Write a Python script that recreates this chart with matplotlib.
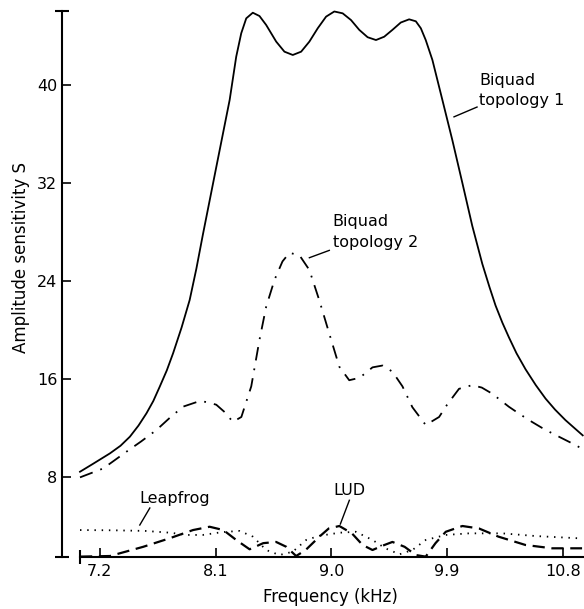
import matplotlib
matplotlib.use("Agg")
import matplotlib.pyplot as plt

# values (frequency in kHz, amplitude sensitivity S)
freq_bq1 = [7.045, 7.15, 7.278, 7.36, 7.433, 7.5, 7.562, 7.615, 7.665, 7.72,
            7.769, 7.835, 7.898, 7.95, 8.001, 8.105, 8.209, 8.26, 8.299, 8.338,
            8.389, 8.441, 8.493, 8.571, 8.635, 8.70, 8.765, 8.829, 8.894, 8.959,
            9.023, 9.088, 9.153, 9.217, 9.282, 9.347, 9.411, 9.475, 9.54, 9.605,
            9.657, 9.696, 9.734, 9.786, 9.863, 9.941, 10.019, 10.096, 10.174,
            10.23, 10.277, 10.33, 10.381, 10.44, 10.51, 10.59, 10.666, 10.74,
            10.82, 10.89, 10.955]
s_bq1 = [8.43, 9.1, 9.93, 10.55, 11.29, 12.2, 13.2, 14.2, 15.37, 16.7,
         18.1, 20.2, 22.45, 25.0, 27.8, 33.3, 38.78, 42.31, 44.22, 45.44,
         45.9, 45.63, 44.9, 43.54, 42.72, 42.45, 42.72, 43.54, 44.63, 45.58,
         46.0, 45.85, 45.3, 44.5, 43.9, 43.67, 43.94, 44.5, 45.1, 45.36,
         45.2, 44.63, 43.67, 42.04, 38.8, 35.5, 32.0, 28.5, 25.4,
         23.5, 22.0, 20.6, 19.4, 18.1, 16.8, 15.5, 14.4, 13.5,
         12.65, 12.0, 11.4]

freq_bq2 = [7.045, 7.226, 7.407, 7.52, 7.64, 7.74, 7.846, 7.976, 8.04, 8.105,
            8.17, 8.234, 8.30, 8.377, 8.441, 8.493, 8.558, 8.62, 8.674, 8.752,
            8.829, 8.907, 8.984, 9.062, 9.139, 9.22, 9.32, 9.398, 9.475, 9.553,
            9.63, 9.734, 9.838, 9.9, 9.993, 10.096, 10.17, 10.251, 10.38, 10.47,
            10.56, 10.64, 10.717, 10.872, 10.945]
s_bq2 = [7.97, 8.7, 10.07, 10.9, 11.84, 12.8, 13.74, 14.2, 14.1, 13.9,
         13.3, 12.5, 12.9, 15.4, 19.2, 21.9, 24.1, 25.6, 26.3, 26.1,
         24.9, 22.4, 19.7, 17.0, 15.9, 16.1, 16.95, 17.1, 16.6, 15.4,
         13.7, 12.24, 12.9, 13.9, 15.2, 15.5, 15.3, 14.8, 13.74, 13.1,
         12.5, 12.0, 11.57, 10.75, 10.34]

freq_lf = [7.045, 7.3, 7.55, 7.75, 7.873, 8.0, 8.15, 8.286, 8.39, 8.493,
           8.596, 8.70, 8.804, 8.907, 9.062, 9.19, 9.32, 9.42, 9.53, 9.63,
           9.734, 9.89, 10.07, 10.33, 10.59, 10.92]
s_lf = [3.67, 3.65, 3.6, 3.45, 3.27, 3.27, 3.5, 3.6, 3.13, 2.04,
        1.63, 1.9, 2.86, 3.2, 3.45, 3.53, 2.86, 2.18, 1.69, 2.04,
        2.86, 3.27, 3.4, 3.4, 3.18, 3.0]

freq_lud = [7.045, 7.278, 7.536, 7.743, 7.924, 8.053, 8.16, 8.26, 8.364, 8.47,
            8.57, 8.65, 8.726, 8.80, 8.907, 8.98, 9.062, 9.16, 9.243, 9.32,
            9.40, 9.475, 9.57, 9.657, 9.734, 9.81, 9.89, 10.019, 10.148, 10.3,
            10.51, 10.717, 10.95]
s_lud = [1.5, 1.55, 2.3, 3.0, 3.67, 3.94, 3.67, 2.86, 2.1, 2.6,
         2.7, 2.3, 1.55, 2.04, 3.13, 3.8, 4.0, 3.4, 2.45, 2.04,
         2.4, 2.7, 2.3, 1.63, 1.5, 2.6, 3.53, 4.0, 3.8, 3.13,
         2.45, 2.18, 2.18]

x_ticks = [7.2, 8.1, 9.0, 9.9, 10.8]
x_labels = ["7.2", "8.1", "9.0", "9.9", "10.8"]
y_ticks = [8, 16, 24, 32, 40]

plt.rcParams['font.family'] = ['DejaVu Sans']

fig = plt.figure(figsize=(5.84, 6.09), dpi=100)
ax = fig.add_axes([62 / 584, 52 / 609, 522 / 584, 546 / 609])

xmin, xmax = 6.905, 10.965
ymin, ymax = 1.47, 46.04
ax.set_xlim(xmin, xmax)
ax.set_ylim(ymin, ymax)

ax.plot(freq_bq1, s_bq1, color='black', lw=1.3, clip_on=False)
ax.plot(freq_bq2, s_bq2, color='black', lw=1.3, linestyle=(0, (7.5, 4.5, 1, 4.5)), clip_on=False)
ax.plot(freq_lf, s_lf, color='black', lw=1.3, linestyle=(0, (0.8, 3.2)), clip_on=False)
ax.plot(freq_lud, s_lud, color='black', lw=1.6, linestyle=(0, (5.5, 3)), clip_on=False)

# annotations with leader lines
fs = 11.5
ax.text(10.148, 38.37, "Biquad\ntopology 1", fontsize=fs, ha='left', va='baseline', linespacing=1.45)
ax.plot([9.954, 10.133], [37.4, 38.2], color='black', lw=1.0)
ax.text(9.01, 26.8, "Biquad\ntopology 2", fontsize=fs, ha='left', va='baseline', linespacing=1.45)
ax.plot([8.829, 8.984], [25.9, 26.5], color='black', lw=1.0)
ax.text(7.51, 5.88, "Leapfrog", fontsize=fs, ha='left', va='baseline')
ax.plot([7.51, 7.588], [4.08, 5.47], color='black', lw=1.0)
ax.text(9.139, 6.53, "LUD", fontsize=fs, ha='center', va='baseline')
ax.plot([9.07, 9.14], [4.16, 6.1], color='black', lw=1.0)

# axes styling
for side in ['top', 'right']:
    ax.spines[side].set_visible(False)
ax.spines['left'].set_linewidth(1.5)
ax.spines['bottom'].set_linewidth(1.5)
ax.spines['bottom'].set_bounds(7.045, xmax)

ax.set_xticks(x_ticks)
ax.set_xticklabels(x_labels)
ax.set_yticks(y_ticks)
ax.set_xticks([7.045], minor=True)
ax.set_yticks([ymin, ymax], minor=True)
ax.tick_params(which='major', direction='in', length=6.5, width=1.2, labelsize=fs)
ax.tick_params(axis='x', which='major', pad=5)
ax.tick_params(axis='y', which='major', pad=3.5)
ax.tick_params(which='minor', direction='inout', length=10, width=1.5)

fig.text(21 / 584, 1 - 258 / 609, "Amplitude sensitivity S", rotation=90,
         ha='center', va='center', fontsize=12)
fig.text(330 / 584, 1 - 597 / 609, "Frequency (kHz)", ha='center', va='center', fontsize=12)

fig.savefig("out.png", dpi=100)
